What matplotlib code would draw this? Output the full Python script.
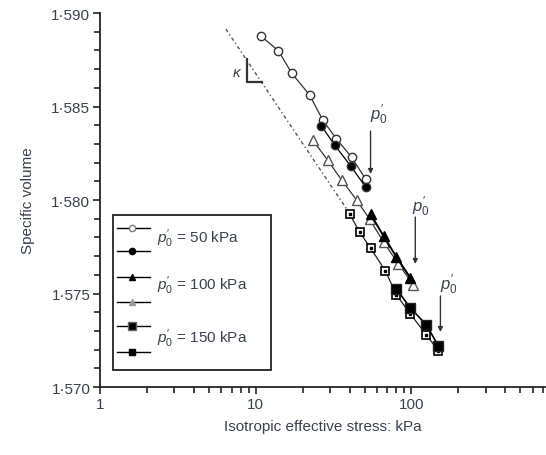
import matplotlib
matplotlib.use("Agg")
import matplotlib.pyplot as plt
from matplotlib.patches import Rectangle
from matplotlib.ticker import FixedLocator, LogLocator, NullFormatter, MultipleLocator

plt.rcParams['font.family'] = ['Liberation Sans', 'DejaVu Sans']
plt.rcParams['mathtext.fontset'] = 'custom'
plt.rcParams['mathtext.it'] = 'Liberation Sans:italic'
plt.rcParams['mathtext.rm'] = 'Liberation Sans'

TXT = '#3a4150'

# ---- data ----
p_50_open = [10.8, 14.0, 17.0, 22.2, 26.9, 33.0, 41.2, 50.7]
v_50_open = [1.58877, 1.58797, 1.58679, 1.58561, 1.58428, 1.58326, 1.58230, 1.58112]

p_50_fill = [26.4, 32.1, 40.7, 50.7]
v_50_fill = [1.58396, 1.58294, 1.58182, 1.58070]

p_100_fill = [54.6, 66.2, 80.1, 98.5]
v_100_fill = [1.57925, 1.57807, 1.57695, 1.57583]

p_100_open = [23.2, 28.9, 35.6, 44.4, 53.8, 66.2, 82.5, 103.0]
v_100_open = [1.58321, 1.58214, 1.58107, 1.58000, 1.57898, 1.57775, 1.57658, 1.57545]

p_150_big = [80.1, 98.5, 124.8, 148.9]
v_150_big = [1.57524, 1.57422, 1.57332, 1.57219]

p_150_small = [40.1, 46.4, 54.6, 68.1, 80.1, 98.5, 124.8, 148.9]
v_150_small = [1.57925, 1.57829, 1.57743, 1.57620, 1.57492, 1.57390, 1.57278, 1.57193]

kappa_p = [6.43, 39.5]
kappa_v = [1.58914, 1.57936]

# p0' arrows: label position, arrow x, arrow start/end v
p0_label_p = [61.6, 115.5, 172.6]
p0_label_v = [1.58460, 1.57968, 1.57551]
p0_arrow_p = [54.6, 105.8, 153.4]
p0_arrow_v0 = [1.58369, 1.57909, 1.57487]
p0_arrow_v1 = [1.58139, 1.57658, 1.57294]

legend_labels = ["= 50 kPa", "= 100 kPa", "= 150 kPa"]
yticks = [1.570, 1.575, 1.580, 1.585, 1.590]
ytick_labels = ["1·570", "1·575", "1·580", "1·585", "1·590"]
xticks = [1, 10, 100]
xtick_labels = ["1", "10", "100"]

fig = plt.figure(figsize=(5.46, 4.56), dpi=100)
ax = fig.add_axes([100/546, 1 - 388/456, 445/546, 374/456])

# kappa line
ax.plot(kappa_p, kappa_v, color='#555555', lw=1.0, ls=(0, (2.5, 2, 1, 2)), zorder=1)

# series
ax.plot(p_50_open, v_50_open, '-', color='#333333', lw=0.9, marker='o', ms=6,
        mfc='white', mec='#333333', mew=1.0, zorder=3)
ax.plot(p_50_fill, v_50_fill, '-', color='black', lw=0.9, marker='o', ms=6,
        mfc='black', mec='#333333', mew=1.0, zorder=4)
ax.plot(p_100_open, v_100_open, '-', color='#333333', lw=0.9, marker='^', ms=6.5,
        mfc='white', mec='#555555', mew=1.0, zorder=3)
ax.plot(p_100_fill, v_100_fill, '-', color='black', lw=1.4, marker='^', ms=7,
        mfc='black', mec='black', mew=1.0, zorder=4)
ax.plot(p_150_small, v_150_small, '-', color='#222222', lw=0.9, marker='s', ms=5.5,
        mfc='white', mec='black', mew=1.2, zorder=3)
ax.plot(p_150_small, v_150_small, ls='none', marker='s', ms=1.6, mfc='black', mec='black', zorder=3.5)
ax.plot(p_150_big, v_150_big, '-', color='black', lw=1.2, marker='s', ms=7,
        mfc='black', mec='#222222', mew=1.0, zorder=4)

# kappa L
kx = [8.75, 8.75, 10.93]
ky = [1.58754, 1.58631, 1.58631]
ax.plot(kx, ky, color='#333333', lw=1.6, zorder=2)
ax.text(7.56, 1.58684, r"$\kappa$", color=TXT, fontsize=11, ha='center', va='center')

# p0' arrows
for lp, lv, ap, a0, a1 in zip(p0_label_p, p0_label_v, p0_arrow_p, p0_arrow_v0, p0_arrow_v1):
    ax.text(lp, lv, r"$p_0'$", color=TXT, fontsize=12, ha='center', va='center')
    ax.annotate('', xy=(ap, a1), xytext=(ap, a0),
                arrowprops=dict(arrowstyle='-|>', color='#333333', lw=1.0,
                                mutation_scale=7, shrinkA=0, shrinkB=0))

ax.set_xscale('log')
ax.set_xlim(1, 720)
ax.set_ylim(1.570, 1.590)
ax.xaxis.set_major_locator(FixedLocator(xticks))
ax.set_xticklabels(xtick_labels)
ax.xaxis.set_minor_locator(LogLocator(base=10, subs=range(2, 10)))
ax.xaxis.set_minor_formatter(NullFormatter())
ax.set_yticks(yticks)
ax.set_yticklabels(ytick_labels)
ax.yaxis.set_minor_locator(MultipleLocator(0.001))

for s in ['top', 'right']:
    ax.spines[s].set_visible(False)
for s in ['left', 'bottom']:
    ax.spines[s].set_linewidth(1.3)
    ax.spines[s].set_color('#222222')
ax.tick_params(which='major', length=5, width=1.2, color='#222222', labelsize=11,
               labelcolor=TXT, pad=2)
ax.tick_params(which='minor', length=4, width=1.2, color='#222222')

ax.set_xlabel("Isotropic effective stress: kPa", fontsize=11, color=TXT, labelpad=6)
ax.set_ylabel("Specific volume", fontsize=11, color=TXT, labelpad=12)

# legend (manual)
def fx(px):
    return (px - 100) / 445
def fy(py):
    return (388 - py) / 374

ax.add_patch(Rectangle((fx(113), fy(371)), fx(271) - fx(113), fy(216) - fy(371),
                       transform=ax.transAxes, fill=False, ec='#222222', lw=1.3, zorder=5))
rows_py = [229, 252, 278, 303, 327, 353]
styles = [
    dict(marker='o', ms=4.5, mfc='white', mec='#777777'),
    dict(marker='o', ms=4.5, mfc='black', mec='black'),
    dict(marker='^', ms=5, mfc='black', mec='black'),
    dict(marker='^', ms=5, mfc='#999999', mec='#999999'),
    dict(marker='s', ms=6, mfc='black', mec='#666666'),
    dict(marker='s', ms=5, mfc='black', mec='black'),
]
for py, st in zip(rows_py, styles):
    ax.plot([fx(117), fx(150)], [fy(py), fy(py)], color='black', lw=1.0,
            transform=ax.transAxes, zorder=6)
    ax.plot([fx(132)], [fy(py)], ls='none', transform=ax.transAxes, zorder=7, **st)
for py, lab in zip([239, 286, 339], legend_labels):
    ax.text(fx(157), fy(py), r"$p_0'$ " + lab, transform=ax.transAxes, fontsize=11,
            color=TXT, ha='left', va='center', zorder=6)

fig.savefig("out.png", dpi=100)
